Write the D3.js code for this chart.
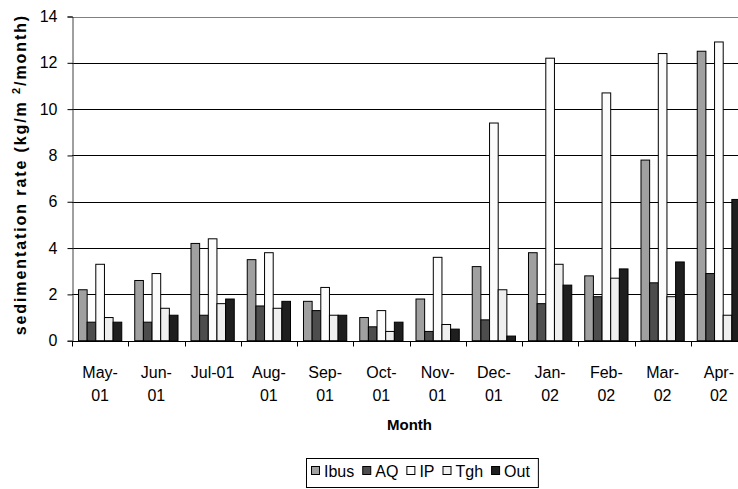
<!DOCTYPE html>
<html>
<head>
<meta charset="utf-8">
<script src="https://cdn.jsdelivr.net/npm/d3@7"></script>
<style>
  html, body { margin: 0; padding: 0; background: #fff; }
  svg { display: block; font-family: Arial, "Liberation Sans", sans-serif; }
</style>
</head>
<body>
<svg id="chart" width="738" height="489"></svg>
<script>
const months = ["May-01","Jun-01","Jul-01","Aug-01","Sep-01","Oct-01","Nov-01","Dec-01","Jan-02","Feb-02","Mar-02","Apr-02"];
const monthLines = [["May-","01"],["Jun-","01"],["Jul-01"],["Aug-","01"],["Sep-","01"],["Oct-","01"],["Nov-","01"],["Dec-","01"],["Jan-","02"],["Feb-","02"],["Mar-","02"],["Apr-","02"]];
const seriesNames = ["Ibus","AQ","IP","Tgh","Out"];
const ibus = [2.2, 2.6, 4.2, 3.5, 1.7, 1.0, 1.8, 3.2, 3.8, 2.8, 7.8, 12.5];
const aq   = [0.8, 0.8, 1.1, 1.5, 1.3, 0.6, 0.4, 0.9, 1.6, 1.9, 2.5, 2.9];
const ip   = [3.3, 2.9, 4.4, 3.8, 2.3, 1.3, 3.6, 9.4, 12.2, 10.7, 12.4, 12.9];
const tgh  = [1.0, 1.4, 1.6, 1.4, 1.1, 0.4, 0.7, 2.2, 3.3, 2.7, 1.9, 1.1];
const out  = [0.8, 1.1, 1.8, 1.7, 1.1, 0.8, 0.5, 0.2, 2.4, 3.1, 3.4, 6.1];
const yTicks = [0, 2, 4, 6, 8, 10, 12, 14];
const colors = ["#a0a0a0", "#4d4d4d", "#fcfcfc", "#efefef", "#1f1f1f"];

const seriesValues = [ibus, aq, ip, tgh, out];

const svg = d3.select("#chart");
const pLeft = 72, pRight = 747, pTop = 16.5, pBottom = 340.7;

const x = d3.scaleBand().domain(months).range([pLeft, pRight]).padding(0);
const xs = d3.scaleBand().domain(seriesNames).range([0, x.bandwidth()]).paddingInner(0).paddingOuter(0.75);
const y = d3.scaleLinear().domain([0, 14]).range([pBottom, pTop]);

// gridlines
svg.append("g").selectAll("line").data(yTicks.filter(d => d > 0)).join("line")
  .attr("x1", pLeft).attr("x2", pRight)
  .attr("y1", d => Math.round(y(d)) + 0.5).attr("y2", d => Math.round(y(d)) + 0.5)
  .attr("stroke", d => d === 14 ? "#808080" : "#000").attr("stroke-width", 1);

// bars
const groups = svg.append("g").selectAll("g").data(months).join("g")
  .attr("transform", d => `translate(${x(d)},0)`);
groups.selectAll("rect").data((m, i) => seriesNames.map((s, j) => ({s, j, v: seriesValues[j][i]}))).join("rect")
  .attr("x", d => xs(d.s))
  .attr("width", xs.bandwidth())
  .attr("y", d => y(d.v))
  .attr("height", d => y(0) - y(d.v))
  .attr("fill", d => colors[d.j])
  .attr("stroke", "#000").attr("stroke-width", 1);

// y axis
const yAxis = d3.axisLeft(y).tickValues(yTicks).tickSize(5).tickPadding(10).tickFormat(d3.format("d"));
const gy = svg.append("g").attr("transform", `translate(${pLeft + 0.5},0)`).call(yAxis);
gy.select(".domain").attr("stroke", "#404040");
gy.selectAll(".tick line").attr("stroke", "#000");
gy.selectAll(".tick text").attr("font-size", "16px").attr("fill", "#000").attr("font-family", "Arial, 'Liberation Sans', sans-serif");

// x axis
const gx = svg.append("g").attr("transform", `translate(0,${Math.round(pBottom) + 0.5})`);
gx.append("line").attr("x1", pLeft).attr("x2", pRight).attr("stroke", "#000");
const bounds = months.map(m => x(m)).concat([pRight]);
gx.selectAll("line.tk").data(bounds).join("line").attr("class", "tk")
  .attr("x1", d => Math.round(d) + 0.5).attr("x2", d => Math.round(d) + 0.5)
  .attr("y1", 0).attr("y2", 5).attr("stroke", "#000");
const lbl = gx.selectAll("text.ml").data(months).join("text").attr("class", "ml")
  .attr("x", d => x(d) + x.bandwidth() / 2)
  .attr("text-anchor", "middle").attr("font-size", "16px").attr("fill", "#000");
lbl.each(function(d, i) {
  const t = d3.select(this);
  monthLines[i].forEach((line, k) => {
    t.append("tspan").attr("x", x(d) + x.bandwidth() / 2).attr("y", 36 + k * 23).text(line);
  });
});

// axis titles
svg.append("text").attr("x", (pLeft + pRight) / 2).attr("y", 430)
  .attr("text-anchor", "middle").attr("font-size", "15px").attr("font-weight", "bold").text("Month");

const yt = svg.append("text").attr("transform", `translate(26,${(pTop + pBottom) / 2 - 4}) rotate(-90)`)
  .attr("text-anchor", "middle").attr("font-size", "16px").attr("font-weight", "bold")
  .attr("letter-spacing", "1.9px");
yt.append("tspan").text("sedimentation rate (kg/m ");
yt.append("tspan").attr("font-size", "11px").attr("dy", "-6").text("2");
yt.append("tspan").attr("dy", "6").text("/month)");

// legend
const lg = svg.append("g");
let cx = 311;
const legY = 477;
seriesNames.forEach((s, j) => {
  lg.append("rect").attr("x", cx + 0.5).attr("y", legY - 10.5).attr("width", 8).attr("height", 8)
    .attr("fill", colors[j]).attr("stroke", "#000");
  const t = lg.append("text").attr("x", cx + 13).attr("y", legY).attr("font-size", "16px").text(s);
  const w = t.node().getComputedTextLength();
  cx += 13 + w + 8;
});
const lgRight = cx;
lg.insert("rect", ":first-child").attr("x", 306.5).attr("y", 458.5).attr("width", lgRight - 306).attr("height", 29)
  .attr("fill", "#fff").attr("stroke", "#000");
</script>
</body>
</html>
